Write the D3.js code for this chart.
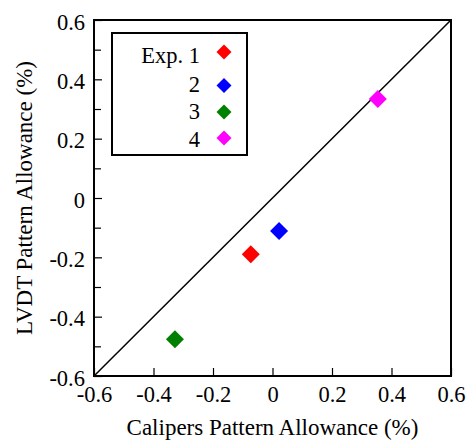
<!DOCTYPE html>
<html>
<head>
<meta charset="utf-8">
<script src="https://cdn.jsdelivr.net/npm/d3@7"></script>
<style>
  html, body { margin: 0; padding: 0; background: #fff; }
  svg { display: block; }
  text { font-family: "Liberation Serif", "Times New Roman", serif; fill: #000; }
</style>
</head>
<body>
<svg id="chart" width="470" height="441"></svg>
<script>
// Pattern allowance per experiment: calipers (x) vs LVDT (y), in percent
const experiments = ["Exp. 1", "2", "3", "4"];
const calipers = [-0.073, 0.022, -0.328, 0.354];
const lvdt = [-0.19, -0.111, -0.476, 0.334];
const colors = ["#ff0000", "#0000ff", "#008000", "#ff00ff"];
const xTicks = [-0.6, -0.4, -0.2, 0, 0.2, 0.4, 0.6];
const yTicks = [-0.6, -0.4, -0.2, 0, 0.2, 0.4, 0.6];
const yMinorTicks = [-0.5, -0.3, -0.1, 0.1, 0.3, 0.5];

const svg = d3.select("#chart");
const plotLeft = 94, plotRight = 451, plotTop = 20, plotBottom = 376;
const fontSize = "22.5px";

const x = d3.scaleLinear().domain([-0.6, 0.6]).range([plotLeft, plotRight]);
const y = d3.scaleLinear().domain([-0.6, 0.6]).range([plotBottom, plotTop]);

const fmt = d => (d === 0 ? "0" : d3.format(".1f")(d).replace("−", "-"));

// axes with inward ticks
const xAxis = d3.axisBottom(x).tickValues(xTicks).tickSizeInner(-8).tickSizeOuter(0).tickPadding(10).tickFormat(fmt);
const yAxis = d3.axisLeft(y).tickValues(yTicks).tickSizeInner(-8).tickSizeOuter(0).tickPadding(9).tickFormat(fmt);

const gx = svg.append("g").attr("transform", `translate(0,${plotBottom})`).call(xAxis);
const gy = svg.append("g").attr("transform", `translate(${plotLeft},0)`).call(yAxis);
svg.append("g").attr("transform", `translate(${plotLeft},0)`)
  .call(d3.axisLeft(y).tickValues(yMinorTicks).tickSizeInner(-7).tickSizeOuter(0).tickFormat(""))
  .call(g => g.select(".domain").remove());

[gx, gy].forEach(g => {
  g.select(".domain").remove();
  g.selectAll(".tick text").style("font-size", fontSize).style("font-family", "'Liberation Serif', serif").attr("fill", "#000");
});
gx.selectAll(".tick text").attr("dy", "0.71em");
gy.selectAll(".tick text").attr("dy", "0.4em");
svg.selectAll(".tick line").attr("stroke", "#000").attr("stroke-width", 1.2);

// 1:1 reference line
svg.append("line")
  .attr("x1", x(-0.6)).attr("y1", y(-0.6))
  .attr("x2", x(0.6)).attr("y2", y(0.6))
  .attr("stroke", "#000").attr("stroke-width", 1.5);

// plot frame
svg.append("rect")
  .attr("x", plotLeft).attr("y", plotTop)
  .attr("width", plotRight - plotLeft).attr("height", plotBottom - plotTop)
  .attr("fill", "none").attr("stroke", "#000").attr("stroke-width", 2);

// data points as diamonds
const diamond = d3.symbol().type(d3.symbolSquare).size(162);
svg.append("g").selectAll("path")
  .data(experiments)
  .join("path")
  .attr("d", diamond)
  .attr("transform", (d, i) => `translate(${x(calipers[i])},${y(lvdt[i])}) rotate(45)`)
  .attr("fill", (d, i) => colors[i]);

// legend
const legend = svg.append("g");
legend.append("rect")
  .attr("x", 112).attr("y", 33).attr("width", 135).attr("height", 122)
  .attr("fill", "#fff").attr("stroke", "#000").attr("stroke-width", 2);
const rowY = [52, 85.5, 112, 138];
const textY = [63, 92, 119, 147];
const legendDiamond = d3.symbol().type(d3.symbolSquare).size(112);
experiments.forEach((name, i) => {
  legend.append("text")
    .attr("x", 200).attr("y", textY[i])
    .attr("text-anchor", "end")
    .style("font-size", fontSize)
    .text(name);
  legend.append("path")
    .attr("d", legendDiamond)
    .attr("transform", `translate(224,${rowY[i]}) rotate(45)`)
    .attr("fill", colors[i]);
});

// axis titles
svg.append("text")
  .attr("x", (plotLeft + plotRight) / 2).attr("y", 435)
  .attr("text-anchor", "middle")
  .style("font-size", "23px")
  .text("Calipers Pattern Allowance (%)");
svg.append("text")
  .attr("transform", `translate(32,${(plotTop + plotBottom) / 2}) rotate(-90)`)
  .attr("text-anchor", "middle")
  .style("font-size", "23px")
  .text("LVDT Pattern Allowance (%)");
</script>
</body>
</html>
